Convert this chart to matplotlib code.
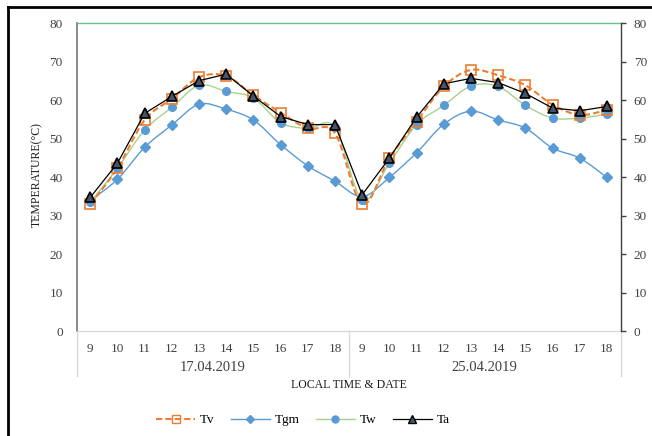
import matplotlib
matplotlib.use("Agg")
import matplotlib.pyplot as plt
from matplotlib.path import Path
from matplotlib.patches import PathPatch
from matplotlib.lines import Line2D
import numpy as np

plt.rcParams['font.family'] = ['Liberation Serif', 'DejaVu Serif']

# hourly readings for the two days
hours = [9, 10, 11, 12, 13, 14, 15, 16, 17, 18]
dates = ["17.04.2019", "25.04.2019"]

Tv = [33.0, 42.4, 54.9, 60.4, 66.0, 66.3, 61.3, 56.8, 52.7, 51.5,
      33.1, 45.0, 54.5, 63.6, 67.9, 66.5, 63.9, 58.9, 56.2, 57.5]
Tgm = [34.0, 39.5, 47.8, 53.6, 59.0, 57.7, 54.9, 48.5, 43.0, 39.0,
       35.0, 40.0, 46.4, 53.8, 57.2, 54.9, 52.8, 47.6, 45.0, 40.0]
Tw = [33.5, 42.4, 52.3, 58.2, 63.9, 62.3, 60.6, 54.2, 52.7, 53.0,
      34.2, 43.7, 53.7, 58.7, 63.7, 63.6, 58.7, 55.4, 55.4, 56.4]
Ta = [34.8, 43.7, 56.6, 61.0, 65.1, 66.8, 61.1, 55.8, 53.7, 53.7,
      35.5, 45.0, 55.6, 64.3, 65.7, 64.6, 61.8, 58.0, 57.3, 58.4]


def smooth_path(x, y):
    # catmull-rom style bezier through the points (like a "smoothed line")
    x = np.asarray(x, float)
    y = np.asarray(y, float)
    verts = [(x[0], y[0])]
    codes = [Path.MOVETO]
    n = len(x)
    for i in range(n - 1):
        p0 = i - 1 if i > 0 else i
        p3 = i + 2 if i + 2 < n else i + 1
        c1 = (x[i] + (x[i + 1] - x[p0]) / 6, y[i] + (y[i + 1] - y[p0]) / 6)
        c2 = (x[i + 1] - (x[p3] - x[i]) / 6, y[i + 1] - (y[p3] - y[i]) / 6)
        verts += [c1, c2, (x[i + 1], y[i + 1])]
        codes += [Path.CURVE4] * 3
    return Path(verts, codes)


fig = plt.figure(figsize=(6.52, 4.36), dpi=100)
ax = fig.add_axes([0.1176, 0.2397, 0.8341, 0.7069])

xs = np.arange(len(Tv))

c_tv = '#ED7D31'
c_tgm = '#5B9BD5'
c_tw = '#A9D18E'
c_ta = '#000000'

# smoothed series
ax.add_patch(PathPatch(smooth_path(xs, Tgm), fill=False, edgecolor=c_tgm, lw=1.0, zorder=2))
ax.add_patch(PathPatch(smooth_path(xs, Tw), fill=False, edgecolor=c_tw, lw=1.0, zorder=2))
ax.add_patch(PathPatch(smooth_path(xs, Tv), fill=False, edgecolor=c_tv, lw=1.5,
                       linestyle=(0, (3, 1.5)), zorder=3))
ax.plot(xs, Tgm, ls='none', marker='D', ms=5, mfc=c_tgm, mec=c_tgm, zorder=4)
ax.plot(xs, Tw, ls='none', marker='o', ms=5.5, mfc=c_tgm, mec=c_tgm, zorder=4)
ax.plot(xs, Tv, ls='none', marker='s', ms=7, mfc='none', mec=c_tv, mew=1.2,
        zorder=5)
ax.plot(xs, Ta, color=c_ta, lw=0.9, marker='^', ms=6.5, mfc='#44546A', mec='black',
        mew=1.2, zorder=6)

ax.set_xlim(-0.5, len(xs) - 0.5)
ax.set_ylim(0, 80)
ax.set_yticks(range(0, 81, 10))
ax.tick_params(axis='y', length=0, pad=10, labelsize=9.5, labelcolor='#404040')
ax.set_xticks(xs)
ax.set_xticklabels([str(h) for h in hours * 2])
ax.tick_params(axis='x', length=0, pad=8, labelsize=9.5, labelcolor='#404040')

ax.spines['left'].set_color('#808080')
ax.spines['left'].set_linewidth(1.3)
ax.spines['top'].set_color('#6ABF8A')
ax.spines['top'].set_linewidth(1.0)
ax.spines['bottom'].set_color('#D9D9D9')
ax.spines['bottom'].set_linewidth(1.0)
ax.spines['right'].set_visible(False)

ax2 = ax.twinx()
ax2.set_ylim(0, 80)
ax2.set_yticks(range(0, 81, 10))
ax2.tick_params(axis='y', direction='out', length=3.5, width=1, color='#404040',
                pad=6, labelsize=9.5, labelcolor='#404040')
for s in ['left', 'top', 'bottom']:
    ax2.spines[s].set_visible(False)
ax2.spines['right'].set_color('#404040')
ax2.spines['right'].set_linewidth(1.0)

# group separators and date labels below the hour labels
for xb in [0, 0.5, 1.0]:
    ax.plot([xb, xb], [0, -0.143], transform=ax.transAxes, color='#D9D9D9',
            lw=1.0, clip_on=False)
for i, d in enumerate(dates):
    ax.text(0.25 + 0.5 * i, -0.117, d, transform=ax.transAxes, ha='center',
            va='center', fontsize=10.5, color='#404040')

ax.text(0.5, -0.174, "LOCAL TIME & DATE", transform=ax.transAxes, ha='center',
        va='center', fontsize=8.5, color='#1a1a1a')
fig.text(37 / 652, 0.6, "TEMPERATURE(°C)", rotation=90, ha='center', va='center',
         fontsize=8.5, color='#1a1a1a')

handles = [
    Line2D([], [], color=c_tv, lw=1.5, ls=(0, (3, 1.5)), marker='s', ms=6,
           mfc='none', mec=c_tv),
    Line2D([], [], color=c_tgm, lw=1.0, marker='D', ms=4.5, mfc=c_tgm, mec=c_tgm),
    Line2D([], [], color=c_tw, lw=1.0, marker='o', ms=5, mfc=c_tgm, mec=c_tgm),
    Line2D([], [], color=c_ta, lw=0.9, marker='^', ms=6, mfc='#44546A', mec='black'),
]
fig.legend(handles, ["Tv", "Tgm", "Tw", "Ta"], loc='center',
           bbox_to_anchor=(303 / 652, 1 - 420 / 436), ncol=4, frameon=False,
           fontsize=9.5, handlelength=2.95, columnspacing=1.2, handletextpad=0.4)

# outer frame around the figure
fig.add_artist(Line2D([8 / 652, 8 / 652], [0, 1 - 7 / 436], color='black', lw=2,
                      transform=fig.transFigure))
fig.add_artist(Line2D([8 / 652, 1], [1 - 7 / 436, 1 - 7 / 436], color='black', lw=2,
                      transform=fig.transFigure))

fig.savefig("out.png", dpi=100)
